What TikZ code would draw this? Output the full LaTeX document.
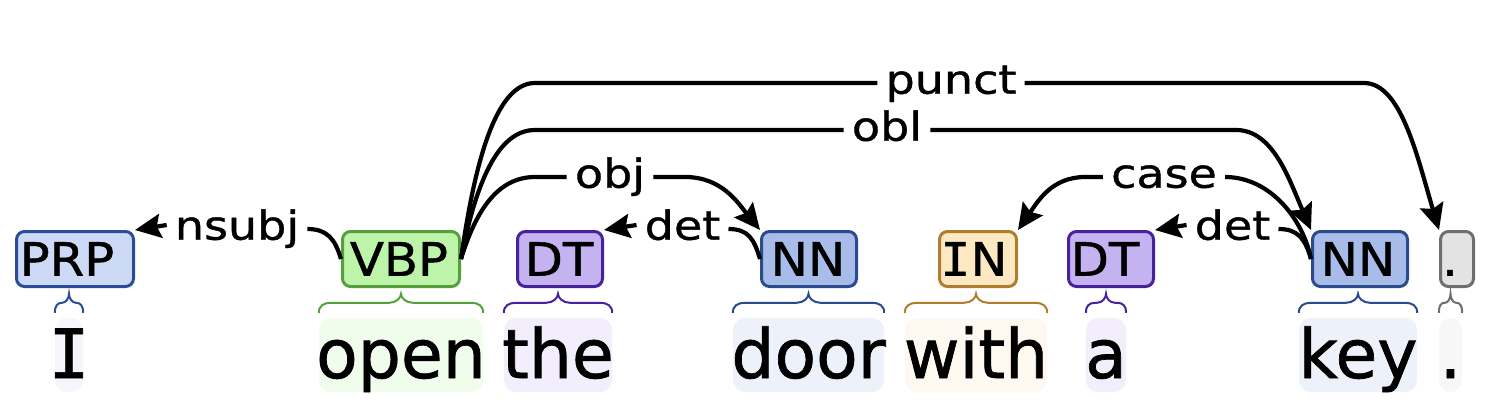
\documentclass[tikz,border=0pt]{standalone}
\usepackage{fontspec}
\setmainfont{DejaVu Sans}[FakeBold=1]
\newfontfamily\wordf[FakeBold=1]{DejaVu Sans}
\newfontfamily\wmono[FakeBold=1]{DejaVu Sans Mono}
\newfontfamily\tagf[FakeStretch=1.08,FakeBold=1]{DejaVu Sans}
\newfontfamily\tagmono[FakeStretch=1.08,FakeBold=1]{DejaVu Sans Mono}
\newfontfamily\lblf[FakeStretch=1.15,FakeBold=1]{DejaVu Sans}
\usetikzlibrary{arrows.meta,calc}
\definecolor{prpF}{HTML}{CCDAF5}\definecolor{prpD}{HTML}{2B4C9B}\definecolor{prpW}{HTML}{F5F6FC}
\definecolor{vbF}{HTML}{BEF4AA}\definecolor{vbD}{HTML}{56A03C}\definecolor{vbW}{HTML}{F0FCEC}
\definecolor{dtF}{HTML}{C5B2F0}\definecolor{dtD}{HTML}{47229A}\definecolor{dtW}{HTML}{F2EEFC}
\definecolor{nnF}{HTML}{A8BCEA}\definecolor{nnD}{HTML}{2A4B8E}\definecolor{nnW}{HTML}{ECF1FA}
\definecolor{inF}{HTML}{FDE8C4}\definecolor{inD}{HTML}{B07C2E}\definecolor{inW}{HTML}{FEF9F0}
\definecolor{puF}{HTML}{E3E3E3}\definecolor{puD}{HTML}{6E6E6E}\definecolor{puW}{HTML}{F7F7F7}
\newcommand{\wordbrace}[3]{%
  \coordinate (#1-a) at ([yshift=5pt]#1.north west);
  \coordinate (#1-b) at ([yshift=5pt]#1.north east);
  \coordinate (#1-t) at ([yshift=24pt]#1.north);
  \draw[brc, #2] (#1-a) .. controls +(0,-7) and +({-0.6*#3},0) .. ($(#1-a)+(#3,-10)$)
    -- ($(#1-t)+(-#3,9)$) .. controls +({0.6*#3},0) and +(0,4) .. (#1-t)
    .. controls +(0,4) and +({-0.6*#3},0) .. ($(#1-t)+(#3,9)$)
    -- ($(#1-b)+(-#3,-10)$) .. controls +({0.6*#3},0) and +(0,-7) .. (#1-b);
}
\begin{document}
\begin{tikzpicture}[x=1pt,y=-1pt,
  tagbox/.style={draw, rounded corners=8pt, line width=3pt, minimum height=55pt, inner sep=0pt},
  tagtxt/.style={inner sep=0pt, font=\tagf\fontsize{46pt}{52pt}\selectfont, text height=33.5pt, text depth=0pt},
  wbg/.style={rounded corners=12pt, minimum height=74pt, inner sep=0pt},
  wtxt/.style={inner sep=0pt, anchor=base, font=\wordf\fontsize{68pt}{80pt}\selectfont},
  lbl/.style={inner xsep=8pt, inner ysep=0pt, text height=26pt, text depth=4.6pt, font=\lblf\fontsize{40pt}{46pt}\selectfont},
  arc/.style={draw, line width=4.2pt},
  arr/.style={arc, -{Stealth[length=26pt,width=24pt,inset=4pt]}},
  brc/.style={line width=2pt}
]
\useasboundingbox (0,0) rectangle (1504,400);
% word backgrounds
\node[wbg, fill=prpW, minimum width=28pt]  (wI)    at (69,355) {};
\node[wbg, fill=vbW,  minimum width=164pt] (wopen) at (401,355) {};
\node[wbg, fill=dtW,  minimum width=108pt] (wthe)  at (558,355) {};
\node[wbg, fill=nnW,  minimum width=151pt] (wdoor) at (808.5,355) {};
\node[wbg, fill=inW,  minimum width=142pt] (wwith) at (976,355) {};
\node[wbg, fill=dtW,  minimum width=40pt]  (wa)    at (1106,355) {};
\node[wbg, fill=nnW,  minimum width=118pt] (wkey)  at (1358,355) {};
\node[wbg, fill=puW,  minimum width=23pt]  (wdot)  at (1450.5,355) {};
% words
\node[wtxt] (xI)    at (69,378) {\wmono I};
\node[wtxt] (xopen) at (401,378) {open};
\node[wtxt] (xthe)  at (558,378) {the};
\node[wtxt] (xdoor) at (808.5,378) {door};
\node[wtxt] (xwith) at (976,378) {with};
\node[wtxt] (xa)    at (1106,378) {a};
\node[wtxt] (xkey)  at (1358,378) {key};
\node[wtxt] (xdot)  at (1450.5,378) {.};
% braces
\wordbrace{wI}{prpD}{7}
\wordbrace{wopen}{vbD}{12}
\wordbrace{wthe}{dtD}{12}
\wordbrace{wdoor}{nnD}{12}
\wordbrace{wwith}{inD}{12}
\wordbrace{wa}{dtD}{9}
\wordbrace{wkey}{nnD}{12}
\wordbrace{wdot}{puD}{5.5}
% tag boxes
\node[tagbox, draw=prpD, fill=prpF, minimum width=117pt] (PRP) at (75,259) {};
\node[tagbox, draw=vbD,  fill=vbF,  minimum width=117pt] (VBP) at (401,259) {};
\node[tagbox, draw=dtD,  fill=dtF,  minimum width=85pt]  (DTa) at (560,259) {};
\node[tagbox, draw=nnD,  fill=nnF,  minimum width=95pt]  (NNa) at (809,259) {};
\node[tagbox, draw=inD,  fill=inF,  minimum width=77pt]  (IN)  at (978,259) {};
\node[tagbox, draw=dtD,  fill=dtF,  minimum width=85pt]  (DTb) at (1111,259) {};
\node[tagbox, draw=nnD,  fill=nnF,  minimum width=95pt]  (NNb) at (1360,259) {};
\node[tagbox, draw=puD,  fill=puF,  minimum width=33pt]  (PU)  at (1457,259) {};
% tag texts
\node[tagtxt] (tPRP) at (67,259) {PRP};
\node[tagtxt] (tVBP) at (399,259) {VBP};
\node[tagtxt] (tDTa) at (559,259) {DT};
\node[tagtxt] (tNNa) at (808,259) {NN};
\node[tagtxt] (tIN)  at (974,259) {{\tagmono I}N};
\node[tagtxt] (tDTb) at (1105,259) {DT};
\node[tagtxt] (tNNb) at (1358,259) {NN};
\node[tagtxt] (tPU)  at (1450,259) {.};
% labels
\node[lbl] (Lnsubj) at (237,229) {nsubj};
\node[lbl] (Ldeta)  at (682.5,229) {det};
\node[lbl] (Ldetb)  at (1232.5,229) {det};
\node[lbl] (Lobj)   at (610,177) {obj};
\node[lbl] (Lcase)  at (1164,177) {case};
\node[lbl] (Lobl)   at (887,130) {obl};
\node[lbl] (Lpunct) at (951,83) {punct};
% helper coordinates
\coordinate (vc) at ([xshift=74pt]VBP.east);
\coordinate (n1x) at ([xshift=-75pt]NNa.north west);
\coordinate (n2x) at ([xshift=-75pt]NNb.north west);
\coordinate (pux) at ([xshift=-75pt]PU.north west);
\coordinate (inx) at ([xshift=67pt]IN.north east);
% nsubj
\draw[arc] (VBP.west) .. controls +(-6,-20) and +(20,0) .. (Lnsubj.east);
\draw[arr] ([yshift=4pt]Lnsubj.west) -- (PRP.north east);
% det (the door)
\draw[arc] (NNa.west) .. controls +(-6,-20) and +(20,0) .. (Ldeta.east);
\draw[arr] ([yshift=4pt]Ldeta.west) -- (DTa.north east);
% det (a key)
\draw[arc] (NNb.west) .. controls +(-6,-20) and +(20,0) .. (Ldetb.east);
\draw[arr] ([yshift=4pt]Ldetb.west) -- (DTb.north east);
% obj
\draw[arc] (VBP.east) .. controls +(15,-49) and +(-37,0) .. (vc |- Lobj) -- (Lobj.west);
\draw[arr] (Lobj.east) -- (n1x |- Lobj) .. controls +(37,0) and +(-22,-27) .. (NNa.north west);
% obl
\draw[arc] (VBP.east) .. controls +(15,-77) and +(-37,0) .. (vc |- Lobl) -- (Lobl.west);
\draw[arr] (Lobl.east) -- (n2x |- Lobl) .. controls +(37,0) and +(-22,-51) .. (NNb.north west);
% punct
\draw[arc] (VBP.east) .. controls +(15,-106) and +(-37,0) .. (vc |- Lpunct) -- (Lpunct.west);
\draw[arr] (Lpunct.east) -- (pux |- Lpunct) .. controls +(37,0) and +(-22,-74) .. (PU.north west);
% case
\draw[arc] (NNb.west) .. controls +(-8,-40) and +(45,0) .. (Lcase.east);
\draw[arr] (Lcase.west) -- (inx |- Lcase) .. controls +(-33,0) and +(20,-29) .. (IN.north east);
\end{tikzpicture}
\end{document}
